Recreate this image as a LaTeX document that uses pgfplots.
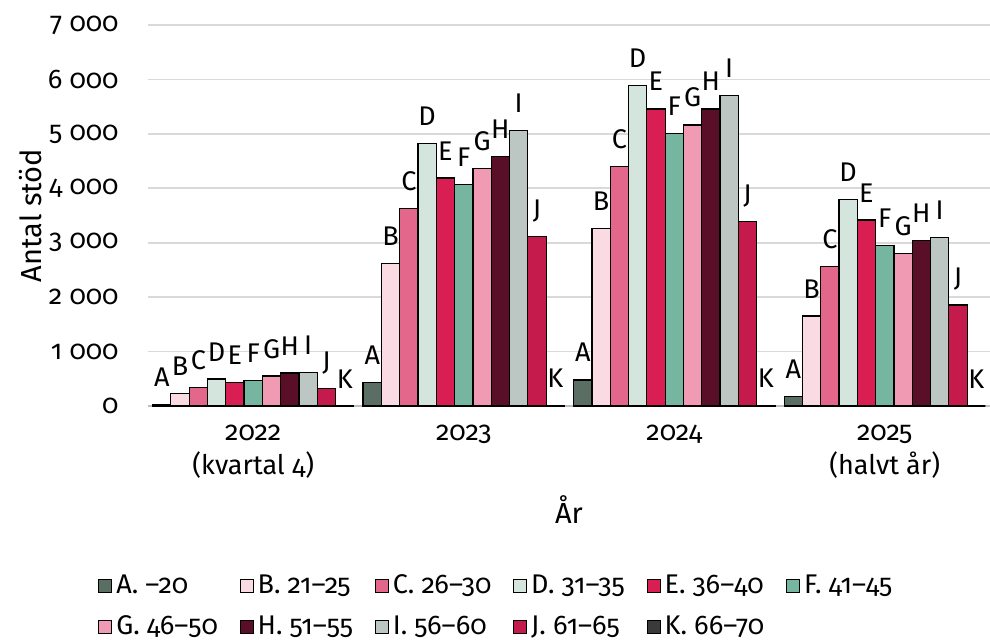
\documentclass[border=0pt]{standalone}
\usepackage{pgfplots}
\pgfplotsset{compat=1.18}
\usepackage{pgfplotstable}
\usepackage{fontspec}
\setmainfont{Fira Sans}[Numbers=OldStyle]

\definecolor{cA}{HTML}{5A6E64}
\definecolor{cB}{HTML}{FADBE3}
\definecolor{cC}{HTML}{E2678A}
\definecolor{cD}{HTML}{D3E5DC}
\definecolor{cE}{HTML}{D81E52}
\definecolor{cF}{HTML}{76B6A0}
\definecolor{cG}{HTML}{F09BB3}
\definecolor{cH}{HTML}{5A0F29}
\definecolor{cI}{HTML}{BCC6C2}
\definecolor{cJ}{HTML}{C41A4C}
\definecolor{cK}{HTML}{3A3A3A}

% antal stöd per åldersgrupp och år
\pgfplotstableread{
x  A    B     C     D     E     F     G     H     I     J     K
0  25   233   343   496   435   465   551   606   612   325   0
1  428  2622  3625  4826  4189  4073  4367  4581  5058  3111  10
2  478  3264  4397  5885  5457  5003  5163  5457  5701  3393  10
3  178  1653  2566  3797  3417  2946  2805  3037  3092  1856  0
}\stod

\pgfplotsset{
  sq/.style={fill=#1, draw=black, line width=0.6pt,
    legend image code/.code={\draw[fill=#1, draw=black, line width=0.5pt] (0pt,-3.2pt) rectangle (6.4pt,3.2pt);}},
}
\newcommand\fs{\fontsize{13.5}{17}\selectfont}

\begin{document}
\fs
\begin{tikzpicture}
\begin{axis}[
    scale only axis,
    width=421pt, height=190.5pt,
    ybar=0pt, bar width=9.15pt,
    xmin=-0.5, xmax=3.5,
    ymin=0, ymax=7000,
    ytick distance=1000,
    scaled y ticks=false,
    xtick=data,
    xticklabels={{2022\\(kvartal 4)}, 2023, 2024, {2025\\(halvt år)}},
    xticklabel style={align=center, font=\fs, yshift=-5pt},
    yticklabel style={font=\fs, xshift=-10pt},
    /pgf/number format/assume math mode=true,
    /pgf/number format/1000 sep={\ },
    major tick length=0pt,
    axis lines*=left,
    y axis line style={draw=none},
    x axis line style={draw=black!25, line width=1pt},
    ymajorgrids=true,
    grid style={draw=black!15, line width=0.8pt},
    xlabel={År},
    ylabel={Antal stöd},
    xlabel style={font=\fontsize{14.5}{17}\selectfont, at={(axis description cs:0.5,0)}, anchor=center, yshift=-52pt},
    ylabel style={font=\fontsize{14.5}{17}\selectfont, at={(axis description cs:-0.14,0.5)}, anchor=center},
    nodes near coords style={font=\fs, anchor=base, yshift=9pt, inner sep=0pt},
    legend columns=6,
    legend style={draw=none, fill=none, font=\fs,
      at={(axis description cs:0.415,-0.42)}, anchor=north,
      /tikz/every even column/.append style={column sep=9pt},
      row sep=5pt},
    legend cell align=left,
]
\addplot[sq=cA, nodes near coords={A}] table[x=x, y=A] {\stod};
\addplot[sq=cB, nodes near coords={B}] table[x=x, y=B] {\stod};
\addplot[sq=cC, nodes near coords={C}] table[x=x, y=C] {\stod};
\addplot[sq=cD, nodes near coords={D}] table[x=x, y=D] {\stod};
\addplot[sq=cE, nodes near coords={E}] table[x=x, y=E] {\stod};
\addplot[sq=cF, nodes near coords={F}] table[x=x, y=F] {\stod};
\addplot[sq=cG, nodes near coords={G}] table[x=x, y=G] {\stod};
\addplot[sq=cH, nodes near coords={H}] table[x=x, y=H] {\stod};
\addplot[sq=cI, nodes near coords={I}] table[x=x, y=I] {\stod};
\addplot[sq=cJ, nodes near coords={J}] table[x=x, y=J] {\stod};
\addplot[sq=cK, nodes near coords={K}] table[x=x, y=K] {\stod};
\legend{A. --20, B. 21--25, C. 26--30, D. 31--35, E. 36--40, F. 41--45,
        G. 46--50, H. 51--55, I. 56--60, J. 61--65, K. 66--70}
\end{axis}
\pgfresetboundingbox
\useasboundingbox (-74pt,-116.5pt) rectangle (421pt,203pt);
\end{tikzpicture}
\end{document}
